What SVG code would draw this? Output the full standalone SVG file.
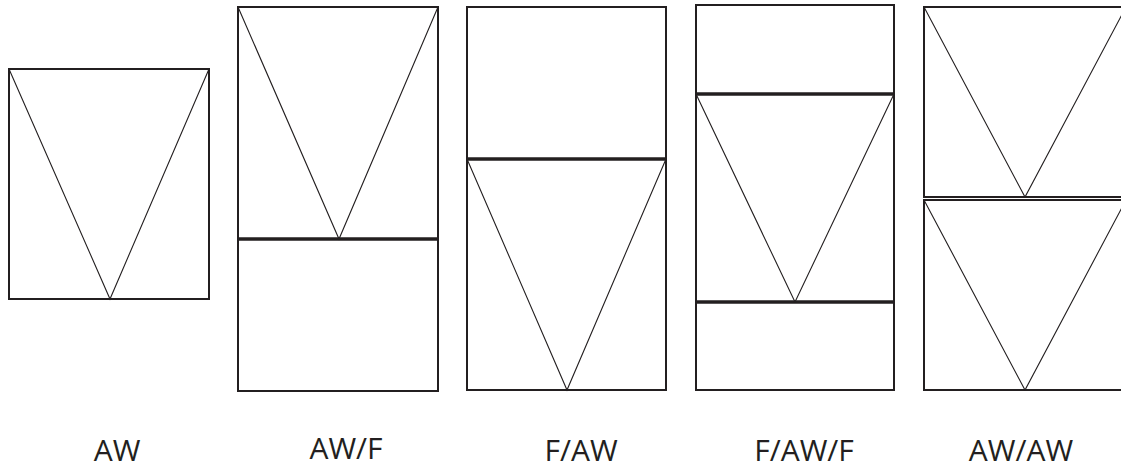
<svg xmlns="http://www.w3.org/2000/svg" width="1121" height="470" viewBox="0 0 1121 470">
<style>
.frame{fill:#fff;stroke:#231f20;stroke-width:2}
.tri{fill:none;stroke:#231f20;stroke-width:1.1;stroke-linejoin:miter}
.div{stroke:#231f20;stroke-width:3.5}
.lbl{font-family:"Open Sans","DejaVu Sans",sans-serif;font-size:30px;fill:#231f20;text-anchor:middle}
</style>
<rect width="1121" height="470" fill="#fff"/>
<g id="aw">
<rect class="frame" x="9" y="69" width="200" height="230"/>
<polyline class="tri" points="9,69 110,299 209,69"/>
<text class="lbl" x="117" y="461">AW</text>
</g>
<g id="aw-f">
<rect class="frame" x="238" y="7" width="200" height="384"/>
<polyline class="tri" points="238,7 339,239 438,7"/>
<line class="div" x1="238" y1="239" x2="438" y2="239"/>
<text class="lbl" x="346" y="459">AW/F</text>
</g>
<g id="f-aw">
<rect class="frame" x="467" y="7" width="199" height="383"/>
<line class="div" x1="467" y1="159" x2="666" y2="159"/>
<polyline class="tri" points="467,159 567,390 666,159"/>
<text class="lbl" x="581" y="461">F/AW</text>
</g>
<g id="f-aw-f">
<rect class="frame" x="696" y="5" width="198" height="385"/>
<line class="div" x1="696" y1="94" x2="894" y2="94"/>
<line class="div" x1="696" y1="302" x2="894" y2="302"/>
<polyline class="tri" points="696,94 795,302 894,94"/>
<text class="lbl" x="804" y="461">F/AW/F</text>
</g>
<g id="aw-aw">
<rect class="frame" x="924" y="7" width="202" height="190"/>
<rect class="frame" x="924" y="200" width="202" height="190"/>
<polyline class="tri" points="924,7 1025,197 1126,7"/>
<polyline class="tri" points="924,200 1025,390 1126,200"/>
<text class="lbl" x="1021" y="461">AW/AW</text>
</g>
<g id="connectors"></g>
</svg>
